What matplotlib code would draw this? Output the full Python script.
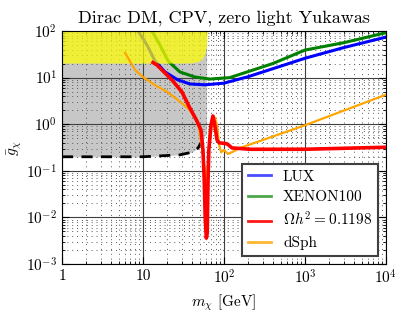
import matplotlib
matplotlib.use("Agg")
import matplotlib.pyplot as plt
from matplotlib.lines import Line2D
import numpy as np

plt.rcParams['font.family'] = 'serif'
plt.rcParams['font.serif'] = ['cmr10']
plt.rcParams['mathtext.fontset'] = 'cm'
plt.rcParams['axes.formatter.use_mathtext'] = True
plt.rcParams['axes.unicode_minus'] = False

# ---- data (m_chi [GeV], g_chi) ----
lux_m = [8.7, 11.2, 14.1, 18.7, 27, 38, 58, 100, 200, 400, 1000, 3000, 10000]
lux_g = [100, 50, 22.7, 13.2, 8.9, 7.3, 7.0, 7.6, 10.5, 15.5, 26, 44, 74]

xenon_m = [12.9, 16.2, 20.4, 28.6, 43.8, 67, 118, 200, 400, 1000, 3000, 10000]
xenon_g = [100, 50, 22.7, 13.2, 10.3, 9.3, 10.0, 13.5, 20, 39, 56, 92]

relic_m = [13.3, 14.9, 22.8, 30.3, 38, 46, 52, 55, 57, 58.5, 60.5, 62, 63.5, 65, 69, 73, 77, 82,
           87, 109, 118, 125, 209, 1000, 10000]
relic_g = [21, 18.6, 8.9, 4.9, 2.2, 1.2, 0.75, 0.28, 0.063, 0.011, 0.0036, 0.0045, 0.06, 0.28,
           0.95, 1.5, 0.95, 0.46, 0.40, 0.38, 0.34, 0.31, 0.29, 0.29, 0.32]

dsph_m = [6, 8, 10, 14, 20, 27, 36, 44, 49, 53, 57, 61, 63, 65, 71, 77, 82, 87, 92, 100, 112,
          125, 158, 1000, 10000]
dsph_g = [34, 14.5, 10.3, 6.9, 4.9, 3.3, 2.2, 1.4, 0.83, 0.36, 0.13, 0.06, 0.12, 0.28, 0.95,
          1.4, 0.95, 0.36, 0.25, 0.28, 0.23, 0.25, 0.31, 0.95, 4.3]

excl_m = [1, 10, 28.6, 40, 48, 52, 55, 58, 61]
excl_g = [0.2, 0.2, 0.22, 0.25, 0.31, 0.4, 0.5, 0.56, 0.6]

yellow_m = [1, 30, 40, 48, 54, 58, 61, 62]
yellow_lo = [20.5, 20.5, 20.8, 22, 25, 32, 50, 100]

xticks = [1, 10, 100, 1000, 10000]
xticklabels = ['1', '10', r'$10^2$', r'$10^3$', r'$10^4$']
yticks = [1e-3, 1e-2, 1e-1, 1, 10, 100]
yticklabels = [r'$10^{-3}$', r'$10^{-2}$', r'$10^{-1}$', r'$10^0$', r'$10^1$', r'$10^2$']

fig = plt.figure(figsize=(4.15, 3.12), dpi=100)
ax = fig.add_axes([62/415, 48/312, 324/415, 233/312])

# excluded gray region
ax.fill_between(excl_m, excl_g, 100, color='0.78', lw=0, zorder=1)
ax.plot(excl_m, excl_g, 'k--', lw=2, dashes=(4, 3), zorder=2.2)

ax.plot(lux_m, lux_g, color='blue', lw=2.2, zorder=2)
ax.plot(xenon_m, xenon_g, color='green', lw=2.2, zorder=2)
ax.plot(dsph_m, dsph_g, color='orange', lw=1.6, zorder=3)
ax.plot(relic_m, relic_g, color='red', lw=2.6, zorder=3.1)

# yellow region on top of the direct-detection curves
ax.fill_between(yellow_m, yellow_lo, 100, color='yellow', alpha=0.72, lw=0, zorder=2.5)

ax.set_xscale('log')
ax.set_yscale('log')
ax.set_xlim(1, 1e4)
ax.set_ylim(1e-3, 1e2)
ax.set_xticks(xticks)
ax.set_xticklabels(xticklabels, fontsize=11)
ax.set_yticks(yticks)
ax.set_yticklabels(yticklabels, fontsize=11)
ax.tick_params(which='both', direction='in', top=True, right=True)
ax.tick_params(which='major', length=5)
ax.tick_params(which='minor', length=2.5)
ax.grid(True, which='major', color='0.25', lw=0.8, ls='-')
ax.grid(True, which='minor', color='0.35', lw=0.7, ls=(0, (1, 4)))

ax.set_xlabel(r'$m_\chi$ [GeV]', fontsize=11)
ax.set_ylabel(r'$\bar{g}_\chi$', fontsize=11, labelpad=2)
ax.set_title('Dirac DM, CPV, zero light Yukawas', fontsize=13)

handles = [Line2D([], [], color='blue', lw=2, alpha=0.7),
           Line2D([], [], color='green', lw=2, alpha=0.7),
           Line2D([], [], color='red', lw=2, alpha=0.9),
           Line2D([], [], color='orange', lw=2, alpha=0.8)]
labels = ['LUX', 'XENON100', r'$\Omega h^2 = 0.1198$', 'dSph']
leg = ax.legend(handles, labels, loc='lower right', fontsize=11, fancybox=False,
                framealpha=1, edgecolor='0.25', handlelength=1.5, borderaxespad=0.5,
                labelspacing=0.45)
leg.get_frame().set_linewidth(1.5)
leg.set_zorder(5)

fig.savefig('out.png', dpi=100)
